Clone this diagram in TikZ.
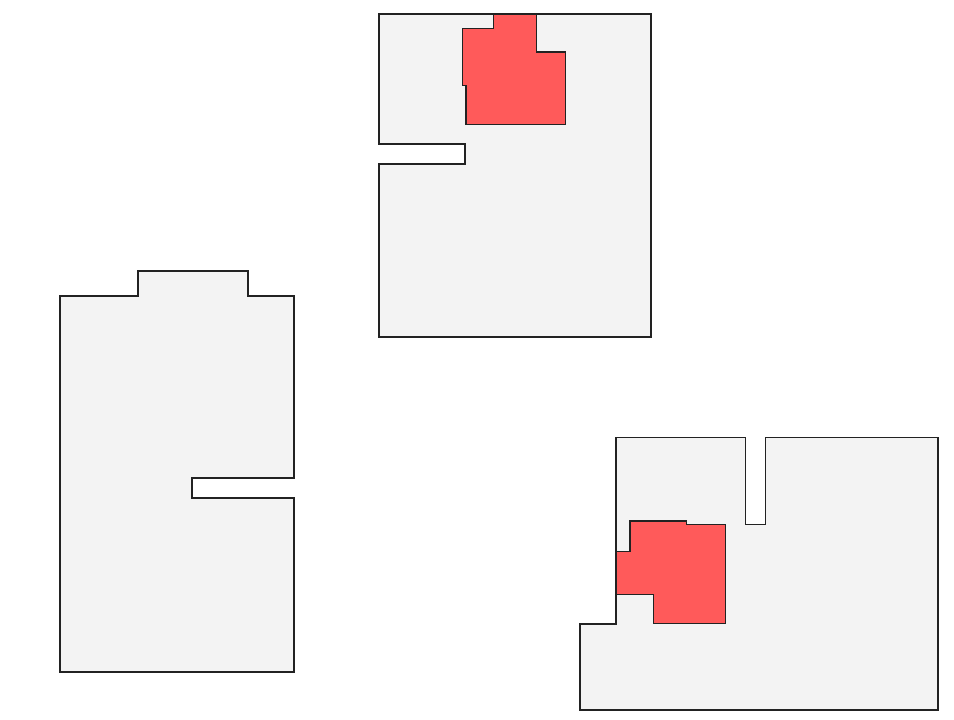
\documentclass[tikz,border=0pt]{standalone}
\definecolor{roomgray}{HTML}{F3F3F3}
\definecolor{roomred}{HTML}{FF5A5A}
\definecolor{edge}{HTML}{222222}
\tikzset{
  room/.style={fill=roomgray, draw=edge, line width=1.3pt, line join=miter},
  hot/.style={fill=roomred, draw=edge, line width=1.3pt, line join=miter}
}
\begin{document}
\begin{tikzpicture}[x=1pt,y=-1pt]
\useasboundingbox (0,0) rectangle (954,720);
% top middle room
\draw[room] (379,14) -- (651,14) -- (651,337) -- (379,337) -- (379,164) -- (465,164) -- (465,144) -- (379,144) -- cycle;
% left room
\draw[room] (60,296) -- (138,296) -- (138,271) -- (248,271) -- (248,296) -- (294,296) -- (294,478) -- (192,478) -- (192,498) -- (294,498) -- (294,672) -- (60,672) -- cycle;
% bottom right room
\draw[room] (616,437.5) -- (745.3,437.5) -- (745.3,524.3) -- (765.3,524.3) -- (765.3,437.5) -- (938,437.5) -- (938,710) -- (580,710) -- (580,624) -- (616,624) -- cycle;
% red regions
\draw[hot] (493.3,14) -- (536.7,14) -- (536.7,52) -- (565.7,52) -- (565.7,124.3) -- (466,124.3) -- (466,85.7) -- (462.7,85.7) -- (462.7,28.7) -- (493.3,28.7) -- cycle;
\draw[hot] (630,521) -- (686.7,521) -- (686.7,524.3) -- (725.7,524.3) -- (725.7,623.7) -- (653.7,623.7) -- (653.7,594.3) -- (616,594.3) -- (616,551.7) -- (630,551.7) -- cycle;
\end{tikzpicture}
\end{document}
